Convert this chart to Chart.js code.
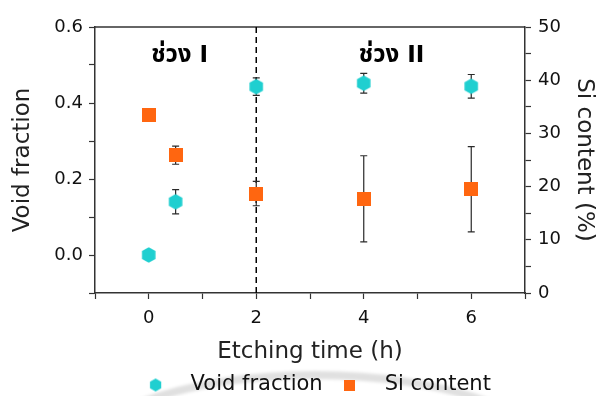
<!DOCTYPE html>
<html>
<head>
<meta charset="utf-8">
<script src="https://cdn.jsdelivr.net/npm/chart.js@4.4.1/dist/chart.umd.min.js"></script>
<style>
  html, body { margin: 0; padding: 0; background: #ffffff; }
  #wrap { width: 600px; height: 396px; }
</style>
</head>
<body>
<div id="wrap"><canvas id="c" width="600" height="396"></canvas></div>
<script>
// Etching time (h)
const etchTimes = [0, 0.5, 2, 4, 6];
// Void fraction (left axis) and its error
const voidFraction = [0.0, 0.14, 0.443, 0.452, 0.444];
const voidErr = [0, 0.032, 0.023, 0.026, 0.031];
// Si content in % (right axis) and its error
const siContent = [33.4, 25.9, 18.7, 17.7, 19.5];
const siErr = [0, 1.7, 2.3, 8.1, 8.0];
// Stage boundary and stage names
const stageBoundary = 2;
const stageNames = ['ช่วง I', 'ช่วง II'];
// Tick labels
const xTickLabels = [0, 2, 4, 6];
const leftTickLabels = ['0.0', '0.2', '0.4', '0.6'];
const rightTickLabels = ['0', '10', '20', '30', '40', '50'];

const CYAN = '#1fcfd0';
const ORANGE = '#ff6610';
const AXIS = '#333333';
const TICK_FONT = { family: 'DejaVu Sans', size: 18 };
const TITLE_FONT = { family: 'DejaVu Sans', size: 23 };
const THAI_FONT = 'bold 24px "Noto Sans Thai", "Noto Sans", sans-serif';
const NUMERAL_FONT = 'bold 23px "DejaVu Sans", sans-serif';

function hexagon(r, color) {
  const w = Math.ceil(2 * r) + 2;
  const cv = document.createElement('canvas');
  cv.width = w; cv.height = w;
  const g = cv.getContext('2d');
  g.fillStyle = color;
  g.beginPath();
  for (let i = 0; i < 6; i++) {
    const a = (-90 + 60 * i) * Math.PI / 180;
    const px = w / 2 + r * Math.cos(a), py = w / 2 + r * Math.sin(a);
    i ? g.lineTo(px, py) : g.moveTo(px, py);
  }
  g.closePath();
  g.fill();
  return cv;
}
function square(s, color) {
  const cv = document.createElement('canvas');
  cv.width = s; cv.height = s;
  const g = cv.getContext('2d');
  g.fillStyle = color;
  g.fillRect(0, 0, s, s);
  return cv;
}
const hexMark = hexagon(7.8, CYAN);
const sqMark = square(14, ORANGE);
const hexLegend = hexagon(6.5, CYAN);
const sqLegend = square(11, ORANGE);

// faint curved shadow behind the legend, plus legend offset
const backdrop = {
  id: 'backdrop',
  afterLayout(chart) {
    chart.legend.left += 11;
    chart.legend.right += 11;
  },
  beforeDraw(chart) {
    const ctx = chart.ctx;
    ctx.save();
    ctx.fillStyle = '#ffffff';
    ctx.fillRect(0, 0, chart.width, chart.height);
    ctx.strokeStyle = 'rgba(0,0,0,0.12)';
    ctx.lineWidth = 8;
    ctx.filter = 'blur(1.5px)';
    ctx.beginPath();
    ctx.ellipse(315, 470, 247, 95, 0, Math.PI, Math.PI * 2);
    ctx.stroke();
    ctx.restore();
  }
};

// Thai word in one font, Roman numeral in a sans font, centred together
function drawStage(ctx, name, cx, cy) {
  const cut = name.lastIndexOf(' ');
  const word = name.slice(0, cut);
  const num = name.slice(cut + 1);
  ctx.font = THAI_FONT;
  const ww = ctx.measureText(word).width;
  ctx.font = NUMERAL_FONT;
  const nw = ctx.measureText(num).width;
  const gap = 8;
  const x0 = cx - (ww + gap + nw) / 2;
  ctx.textAlign = 'left';
  ctx.textBaseline = 'alphabetic';
  ctx.font = THAI_FONT;
  ctx.fillText(word, x0, cy);
  ctx.font = NUMERAL_FONT;
  ctx.fillText(num, x0 + ww + gap, cy);
}

const frame = {
  id: 'frame',
  beforeDatasetsDraw(chart) {
    const { ctx, chartArea: a, scales } = chart;
    ctx.save();
    // top border of the box
    ctx.strokeStyle = AXIS;
    ctx.lineWidth = 1.5;
    ctx.beginPath();
    ctx.moveTo(a.left, a.top);
    ctx.lineTo(a.right, a.top);
    ctx.stroke();
    // dashed stage boundary
    const bx = scales.x.getPixelForValue(stageBoundary);
    ctx.strokeStyle = '#000';
    ctx.lineWidth = 1.5;
    ctx.setLineDash([6, 4]);
    ctx.beginPath();
    ctx.moveTo(bx, a.top);
    ctx.lineTo(bx, a.bottom);
    ctx.stroke();
    ctx.setLineDash([]);
    // stage names centred in each stage
    ctx.fillStyle = '#000';
    const x0 = (scales.x.min + stageBoundary) / 2;
    const x1 = (stageBoundary + scales.x.max) / 2;
    drawStage(ctx, stageNames[0], scales.x.getPixelForValue(x0) + 4, a.top + 35);
    drawStage(ctx, stageNames[1], scales.x.getPixelForValue(x1) + 1, a.top + 35);
    // error bars
    ctx.strokeStyle = '#2a2a2a';
    ctx.lineWidth = 1.2;
    const bar = (xs, ys, es, yScale) => {
      xs.forEach((xv, i) => {
        if (!es[i]) return;
        const px = scales.x.getPixelForValue(xv);
        const top = yScale.getPixelForValue(ys[i] + es[i]);
        const bot = yScale.getPixelForValue(ys[i] - es[i]);
        ctx.beginPath();
        ctx.moveTo(px, top); ctx.lineTo(px, bot);
        ctx.moveTo(px - 3.5, top); ctx.lineTo(px + 3.5, top);
        ctx.moveTo(px - 3.5, bot); ctx.lineTo(px + 3.5, bot);
        ctx.stroke();
      });
    };
    bar(etchTimes, voidFraction, voidErr, scales.y);
    bar(etchTimes, siContent, siErr, scales.y2);
    ctx.restore();
  }
};

new Chart(document.getElementById('c'), {
  type: 'scatter',
  data: {
    datasets: [
      {
        label: 'Void fraction',
        data: etchTimes.map((x, i) => ({ x, y: voidFraction[i] })),
        yAxisID: 'y',
        pointStyle: hexMark,
        backgroundColor: CYAN,
        borderColor: CYAN
      },
      {
        label: 'Si content',
        data: etchTimes.map((x, i) => ({ x, y: siContent[i] })),
        yAxisID: 'y2',
        pointStyle: sqMark,
        backgroundColor: ORANGE,
        borderColor: ORANGE
      }
    ]
  },
  options: {
    responsive: false,
    animation: false,
    events: [],
    layout: { padding: { top: 27, left: 0, right: 0, bottom: -9.5 } },
    plugins: {
      tooltip: { enabled: false },
      legend: {
        position: 'bottom',
        labels: {
          usePointStyle: true,
          pointStyleWidth: 49,
          padding: 2.5,
          color: '#111',
          font: { family: 'DejaVu Sans', size: 21 },
          generateLabels(chart) {
            return chart.data.datasets.map((d, i) => ({
              text: d.label,
              pointStyle: i === 0 ? hexLegend : sqLegend,
              fillStyle: d.backgroundColor,
              strokeStyle: d.borderColor,
              lineWidth: 0,
              hidden: false,
              datasetIndex: i,
              fontColor: '#111'
            }));
          }
        }
      }
    },
    scales: {
      x: {
        type: 'linear',
        min: -1, max: 7,
        ticks: {
          stepSize: 1,
          color: '#111',
          font: TICK_FONT,
          padding: 9,
          callback: v => xTickLabels.includes(v) ? String(v) : ''
        },
        grid: { drawOnChartArea: false, color: AXIS, tickLength: 6, tickWidth: 1.2 },
        border: { color: AXIS, width: 1.5 },
        title: { display: true, text: 'Etching time (h)', color: '#222', font: TITLE_FONT, padding: { top: 2, bottom: 6 } },
        afterFit(s) { s.height = 79; }
      },
      y: {
        position: 'left',
        min: -0.1, max: 0.6,
        ticks: {
          stepSize: 0.1,
          color: '#111',
          font: TICK_FONT,
          padding: 6,
          callback: v => {
            const t = (Math.round(v * 10) / 10).toFixed(1);
            return leftTickLabels.includes(t) ? t : '';
          }
        },
        grid: { drawOnChartArea: false, color: AXIS, tickLength: 6, tickWidth: 1.2 },
        border: { color: AXIS, width: 1.5 },
        title: { display: true, text: 'Void fraction', color: '#222', font: TITLE_FONT, padding: { top: 9, bottom: 9 } },
        afterFit(s) { s.width = 95; }
      },
      y2: {
        position: 'right',
        min: 0, max: 50,
        ticks: {
          stepSize: 5,
          color: '#111',
          font: TICK_FONT,
          padding: 7,
          callback: v => rightTickLabels.includes(String(v)) ? String(v) : ''
        },
        grid: { drawOnChartArea: false, color: AXIS, tickLength: 6, tickWidth: 1.2 },
        border: { color: AXIS, width: 1.5 },
        title: { display: true, text: 'Si content (%)', color: '#222', font: TITLE_FONT, padding: { top: 2, bottom: 2 } },
        afterFit(s) { s.width = 75; }
      }
    }
  },
  plugins: [backdrop, frame]
});
</script>
</body>
</html>
